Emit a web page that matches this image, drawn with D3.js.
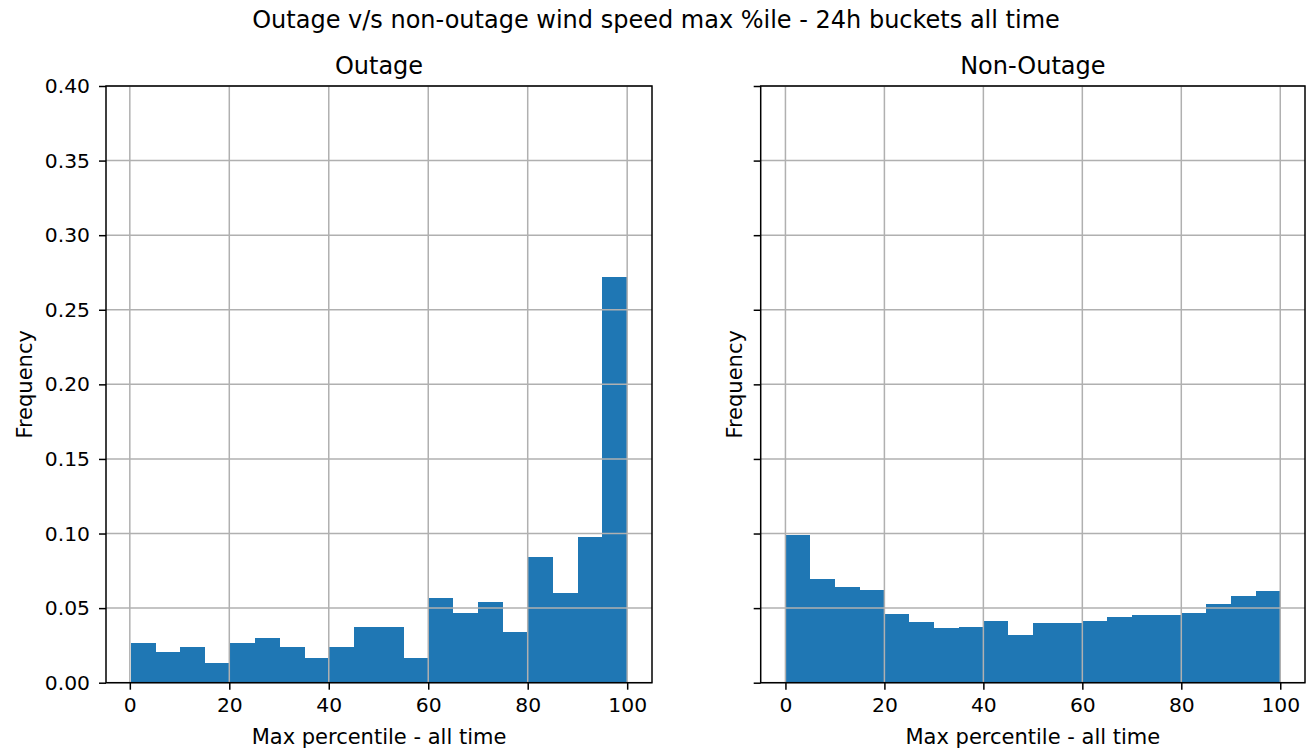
<!DOCTYPE html>
<html>
<head>
<meta charset="utf-8">
<script src="https://cdn.jsdelivr.net/npm/d3@7"></script>
<style>
  html, body { margin: 0; padding: 0; background: #fff; }
  svg { display: block; font-family: "DejaVu Sans", sans-serif; }
</style>
</head>
<body>
<svg id="chart" width="1314" height="751"></svg>
<script>
// ---- data ----
const figureTitle = "Outage v/s non-outage wind speed max %ile - 24h buckets all time";
const panelTitles = ["Outage", "Non-Outage"];
const xLabel = "Max percentile - all time";
const yLabel = "Frequency";
const outageRange = [0.2, 100];
const nonOutageRange = [0, 100];
const outageFreq = [0.0268, 0.0206, 0.0237, 0.0134, 0.0268, 0.0302, 0.0237, 0.0163, 0.0237, 0.0371,
                    0.0373, 0.0165, 0.0570, 0.0467, 0.0541, 0.0342, 0.0841, 0.0603, 0.0979, 0.2722];
const nonOutageFreq = [0.0990, 0.0695, 0.0644, 0.0624, 0.0458, 0.0405, 0.0365, 0.0373, 0.0416, 0.0322,
                       0.0402, 0.0402, 0.0416, 0.0438, 0.0456, 0.0456, 0.0469, 0.0530, 0.0579, 0.0613];
const xTicks = [0, 20, 40, 60, 80, 100];
const yTicks = [0, 0.05, 0.10, 0.15, 0.20, 0.25, 0.30, 0.35, 0.40];
const yDomain = [0, 0.40];

// ---- layout ----
const svg = d3.select("#chart");
const plotTop = 86, plotBottom = 682.7;
const panels = [
  { left: 106, right: 652, range: outageRange, freq: outageFreq, title: panelTitles[0], showYLabels: true },
  { left: 760.7, right: 1305, range: nonOutageRange, freq: nonOutageFreq, title: panelTitles[1], showYLabels: false }
];
const tickFont = 20.3, labelFont = 21, titleFont = 24;
const barColor = "#1f77b4", gridColor = "#b0b0b0";

svg.append("text")
  .attr("x", 656).attr("y", 28)
  .attr("text-anchor", "middle")
  .attr("font-size", titleFont)
  .attr("fill", "#000")
  .text(figureTitle);

const y = d3.scaleLinear().domain(yDomain).range([plotBottom, plotTop]);

panels.forEach(p => {
  const n = p.freq.length;
  const w = (p.range[1] - p.range[0]) / n;
  const margin = (p.range[1] - p.range[0]) * 0.05;
  const x = d3.scaleLinear().domain([p.range[0] - margin, p.range[1] + margin]).range([p.left, p.right]);
  const bins = p.freq.map((v, i) => ({ x0: p.range[0] + i * w, x1: p.range[0] + (i + 1) * w, v }));
  const g = svg.append("g");

  // bars
  g.selectAll("rect.bar").data(bins).join("rect")
    .attr("class", "bar")
    .attr("x", d => x(d.x0))
    .attr("width", d => x(d.x1) - x(d.x0))
    .attr("y", d => y(d.v))
    .attr("height", d => y(0) - y(d.v))
    .attr("fill", barColor)
    .attr("shape-rendering", "crispEdges");

  // grid (above bars like matplotlib)
  g.selectAll("line.gx").data(xTicks).join("line")
    .attr("class", "gx")
    .attr("x1", d => x(d)).attr("x2", d => x(d))
    .attr("y1", plotTop).attr("y2", plotBottom)
    .attr("stroke", gridColor).attr("stroke-width", 1.5);
  g.selectAll("line.gy").data(yTicks).join("line")
    .attr("class", "gy")
    .attr("x1", p.left).attr("x2", p.right)
    .attr("y1", d => y(d)).attr("y2", d => y(d))
    .attr("stroke", gridColor).attr("stroke-width", 1.5);

  // axes
  const xAxis = d3.axisBottom(x).tickValues(xTicks).tickSize(7).tickPadding(8).tickFormat(d3.format("d"));
  const yAxis = d3.axisLeft(y).tickValues(yTicks).tickSize(7).tickPadding(9)
    .tickFormat(p.showYLabels ? d3.format(".2f") : () => "");
  const gx = g.append("g").attr("transform", `translate(0,${plotBottom})`).call(xAxis);
  const gy = g.append("g").attr("transform", `translate(${p.left},0)`).call(yAxis);
  [gx, gy].forEach(a => {
    a.select(".domain").remove();
    a.selectAll(".tick line").attr("stroke", "#000").attr("stroke-width", 1.5);
    a.selectAll(".tick text").attr("font-size", tickFont).attr("fill", "#000").attr("font-family", "DejaVu Sans");
  });

  // frame
  g.append("rect")
    .attr("x", p.left).attr("y", plotTop)
    .attr("width", p.right - p.left).attr("height", plotBottom - plotTop)
    .attr("fill", "none").attr("stroke", "#000").attr("stroke-width", 1.5);

  // panel title
  g.append("text")
    .attr("x", (p.left + p.right) / 2).attr("y", 74)
    .attr("text-anchor", "middle").attr("font-size", titleFont).attr("fill", "#000")
    .text(p.title);

  // x label
  g.append("text")
    .attr("x", (p.left + p.right) / 2).attr("y", 744)
    .attr("text-anchor", "middle").attr("font-size", labelFont).attr("fill", "#000")
    .text(xLabel);

  // y label
  const lx = p.showYLabels ? 32 : 742;
  g.append("text")
    .attr("transform", `translate(${lx},${(plotTop + plotBottom) / 2}) rotate(-90)`)
    .attr("text-anchor", "middle").attr("font-size", labelFont).attr("fill", "#000")
    .text(yLabel);
});
</script>
</body>
</html>
